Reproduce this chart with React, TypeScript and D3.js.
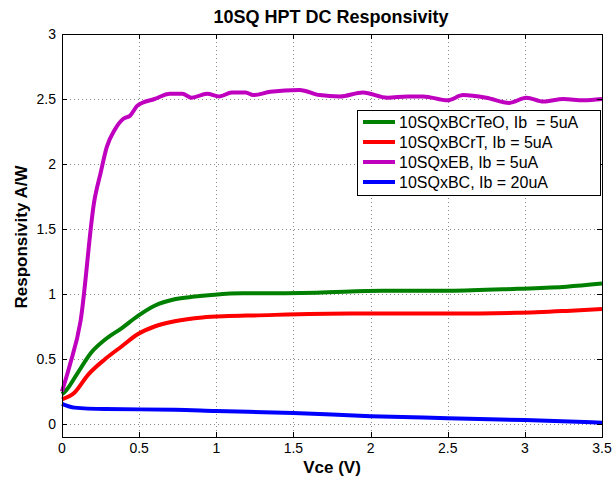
import React, { useEffect, useRef } from 'react';
import * as d3 from 'd3';

// Vce (V) sample points and responsivity (A/W)
const vceEB = [0, 0.05, 0.12, 0.21, 0.25, 0.29, 0.34, 0.40, 0.44, 0.49, 0.60, 0.70, 0.78, 0.84, 0.94, 1.02, 1.10, 1.19, 1.24, 1.35, 1.54, 1.67, 1.80, 1.95, 2.11, 2.24, 2.34, 2.50, 2.60, 2.75, 2.90, 3.01, 3.12, 3.25, 3.38, 3.5];
const respEB = [0.25, 0.45, 0.79, 1.72, 1.93, 2.13, 2.26, 2.35, 2.37, 2.45, 2.50, 2.54, 2.54, 2.51, 2.54, 2.52, 2.55, 2.55, 2.53, 2.555, 2.57, 2.53, 2.52, 2.55, 2.51, 2.52, 2.52, 2.49, 2.53, 2.51, 2.47, 2.51, 2.48, 2.50, 2.49, 2.50];

const vceTeO = [0, 0.02, 0.10, 0.19, 0.28, 0.39, 0.49, 0.60, 0.73, 0.86, 0.99, 1.17, 1.22, 1.65, 2.08, 2.51, 2.95, 3.27, 3.5];
const respTeO = [0.23, 0.25, 0.39, 0.55, 0.65, 0.74, 0.83, 0.91, 0.96, 0.98, 0.995, 1.005, 1.005, 1.01, 1.025, 1.025, 1.04, 1.056, 1.08];

const vceCrT = [0, 0.08, 0.17, 0.28, 0.39, 0.49, 0.60, 0.73, 0.91, 1.08, 1.24, 1.87, 2.51, 2.95, 3.27, 3.5];
const respCrT = [0.19, 0.24, 0.38, 0.50, 0.60, 0.69, 0.75, 0.79, 0.82, 0.83, 0.835, 0.85, 0.85, 0.855, 0.87, 0.885];

const vceBC = [0, 0.08, 0.28, 0.73, 1.0, 1.5, 2.0, 2.5, 3.0, 3.5];
const respBC = [0.155, 0.126, 0.115, 0.11, 0.10, 0.085, 0.06, 0.045, 0.03, 0.01];

const legendLabels = ['10SQxBCrTeO, Ib  = 5uA', '10SQxBCrT, Ib = 5uA', '10SQxEB, Ib = 5uA', '10SQxBC, Ib = 20uA'];
const seriesColors = ['#008000', '#ff0000', '#bf00bf', '#0000ff'];

const xTicks = [0, 0.5, 1, 1.5, 2, 2.5, 3, 3.5];
const yTicks = [0, 0.5, 1, 1.5, 2, 2.5, 3];

const App: React.FC = () => {
  const svgRef = useRef<SVGSVGElement>(null);

  useEffect(() => {
    if (!svgRef.current) return;
    const svg = d3.select(svgRef.current);
    svg.selectAll('*').remove();

    const left = 62, right = 602, top = 34, bottom = 437;
    const x = d3.scaleLinear().domain([0, 3.5]).range([left, right]);
    const y = d3.scaleLinear().domain([-0.1, 3]).range([bottom, top]);
    const font = 'Liberation Sans, Arial, Helvetica, sans-serif';

    svg.append('rect').attr('width', 616).attr('height', 482).attr('fill', '#fff');

    // dotted grid
    const grid = svg.append('g').attr('stroke', '#888').attr('stroke-width', 1).attr('stroke-dasharray', '1,3');
    xTicks.slice(1, -1).forEach(t => {
      grid.append('line').attr('x1', Math.round(x(t)) + 0.5).attr('x2', Math.round(x(t)) + 0.5).attr('y1', top).attr('y2', bottom);
    });
    yTicks.slice(0, -1).forEach(t => {
      grid.append('line').attr('y1', Math.round(y(t)) + 0.5).attr('y2', Math.round(y(t)) + 0.5).attr('x1', left).attr('x2', right);
    });

    // series
    const series = [
      { xs: vceTeO, ys: respTeO },
      { xs: vceCrT, ys: respCrT },
      { xs: vceEB, ys: respEB },
      { xs: vceBC, ys: respBC },
    ];
    const line = d3.line<[number, number]>()
      .x(d => x(d[0]))
      .y(d => y(d[1]))
      .curve(d3.curveMonotoneX);

    const order = [3, 1, 0, 2];
    order.forEach(i => {
      const s = series[i];
      svg.append('path')
        .datum(s.xs.map((v, k) => [v, s.ys[k]] as [number, number]))
        .attr('d', line)
        .attr('fill', 'none')
        .attr('stroke', seriesColors[i])
        .attr('stroke-width', 4)
        .attr('stroke-linejoin', 'round');
    });

    // frame and ticks
    svg.append('rect')
      .attr('x', left + 0.5).attr('y', top + 0.5)
      .attr('width', right - left).attr('height', bottom - top)
      .attr('fill', 'none').attr('stroke', '#000').attr('stroke-width', 1);

    const tickLen = 5;
    xTicks.forEach(t => {
      const px = Math.round(x(t)) + 0.5;
      svg.append('line').attr('x1', px).attr('x2', px).attr('y1', bottom).attr('y2', bottom - tickLen).attr('stroke', '#000');
      svg.append('line').attr('x1', px).attr('x2', px).attr('y1', top).attr('y2', top + tickLen).attr('stroke', '#000');
      svg.append('text')
        .attr('x', x(t)).attr('y', bottom + 16)
        .attr('text-anchor', 'middle')
        .attr('font-family', font).attr('font-size', 14)
        .text(String(t));
    });
    yTicks.forEach(t => {
      const py = Math.round(y(t)) + 0.5;
      svg.append('line').attr('x1', left).attr('x2', left + tickLen).attr('y1', py).attr('y2', py).attr('stroke', '#000');
      svg.append('line').attr('x1', right).attr('x2', right - tickLen).attr('y1', py).attr('y2', py).attr('stroke', '#000');
      svg.append('text')
        .attr('x', left - 6).attr('y', y(t) + 5)
        .attr('text-anchor', 'end')
        .attr('font-family', font).attr('font-size', 14)
        .text(String(t));
    });

    // titles
    svg.append('text')
      .attr('x', 331).attr('y', 23)
      .attr('text-anchor', 'middle')
      .attr('font-family', font).attr('font-size', 18).attr('font-weight', 'bold')
      .text('10SQ HPT DC Responsivity');
    svg.append('text')
      .attr('x', 332).attr('y', 473)
      .attr('text-anchor', 'middle')
      .attr('font-family', font).attr('font-size', 17).attr('font-weight', 'bold')
      .text('Vce (V)');
    svg.append('text')
      .attr('transform', 'translate(27,237) rotate(-90)')
      .attr('text-anchor', 'middle')
      .attr('font-family', font).attr('font-size', 17).attr('font-weight', 'bold')
      .text('Responsivity A/W');

    // legend
    const lg = svg.append('g');
    lg.append('rect')
      .attr('x', 357.5).attr('y', 110.5).attr('width', 243).attr('height', 85)
      .attr('fill', '#fff').attr('stroke', '#000');
    legendLabels.forEach((lab, i) => {
      const ly = 122 + i * 20;
      lg.append('line')
        .attr('x1', 363).attr('x2', 395).attr('y1', ly).attr('y2', ly)
        .attr('stroke', seriesColors[i]).attr('stroke-width', 4);
      lg.append('text')
        .attr('x', 399).attr('y', ly + 5.5)
        .attr('font-family', font).attr('font-size', 16)
        .attr('xml:space', 'preserve')
        .style('white-space', 'pre')
        .text(lab);
    });
  }, []);

  return (
    <svg ref={svgRef} width={616} height={482} style={{ position: 'absolute', left: 0, top: 0, display: 'block' }} />
  );
};

export default App;
